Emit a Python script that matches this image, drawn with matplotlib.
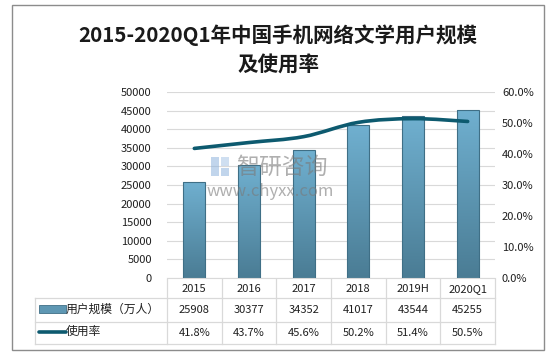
import numpy as np
import matplotlib
matplotlib.use("Agg")
import matplotlib.pyplot as plt
from matplotlib.path import Path
from matplotlib.patches import PathPatch, Rectangle
from matplotlib.lines import Line2D
from matplotlib.transforms import blended_transform_factory
from matplotlib.ticker import FuncFormatter, MultipleLocator

plt.rcParams['font.family'] = ['Noto Sans CJK SC', 'DejaVu Sans']

# ---- data ----
categories = ["2015", "2016", "2017", "2018", "2019H", "2020Q1"]
users = [25908, 30377, 34352, 41017, 43544, 45255]          # 万人
rate = [41.8, 43.7, 45.6, 50.2, 51.4, 50.5]                 # %
title = "2015-2020Q1年中国手机网络文学用户规模\n及使用率"
series_bar = "用户规模（万人）"
series_line = "使用率"

W, H = 554, 356
fig = plt.figure(figsize=(W / 100, H / 100), dpi=100)
fig.patch.set_facecolor("white")

ax = fig.add_axes([167 / W, 78 / H, 328 / W, 186 / H])
ax2 = ax.twinx()
txt = "#1f1f1f"
grid_c = "#d9d9d9"

x = np.arange(len(categories))
bw = 0.4
bars = ax.bar(x, users, width=bw, color="none", edgecolor="#3f6f86", linewidth=0.8, zorder=3)
top_c = np.array([112, 176, 208]) / 255
bot_c = np.array([74, 124, 148]) / 255
grad = np.linspace(0, 1, 256)[:, None, None]
img = top_c * (1 - grad) + bot_c * grad
for b in bars:
    x0, w, h = b.get_x(), b.get_width(), b.get_height()
    im = ax.imshow(img, extent=[x0, x0 + w, 0, h], aspect="auto", origin="upper", zorder=2)
    im.set_clip_path(b)
ax.set_xlim(-0.5, len(categories) - 0.5)
ax.set_ylim(0, 50000)
ax.yaxis.set_major_locator(MultipleLocator(5000))
ax.grid(axis="y", color=grid_c, linewidth=0.8, zorder=0)
ax.set_axisbelow(True)
ax.set_xticks([])
for s in ["top", "left", "right"]:
    ax.spines[s].set_visible(False)
ax.spines["bottom"].set_color(grid_c)
ax.tick_params(axis="y", length=0, pad=11, labelsize=8, labelcolor=txt)

# smooth line (Catmull-Rom -> cubic Bezier)
pts = np.column_stack([x, np.array(rate) / 100.0])
ext = np.vstack([pts[0], pts, pts[-1]])
verts = [pts[0]]
codes = [Path.MOVETO]
for i in range(len(pts) - 1):
    p0, p1, p2, p3 = ext[i], ext[i + 1], ext[i + 2], ext[i + 3]
    c1 = p1 + (p2 - p0) / 6
    c2 = p2 - (p3 - p1) / 6
    verts += [c1, c2, p2]
    codes += [Path.CURVE4] * 3
ax2.add_patch(PathPatch(Path(verts, codes), facecolor="none", edgecolor="#0d5a6f",
                        linewidth=2.6, capstyle="round", zorder=4))
ax2.set_ylim(0, 0.6)
ax2.yaxis.set_major_locator(MultipleLocator(0.1))
ax2.yaxis.set_major_formatter(FuncFormatter(lambda v, p: f"{v*100:.1f}%"))
ax2.tick_params(axis="y", length=0, pad=5, labelsize=8, labelcolor=txt)
for s in ["top", "left", "right", "bottom"]:
    ax2.spines[s].set_visible(False)

# ---- overlay (pixel coords) ----
ov = fig.add_axes([0, 0, 1, 1], zorder=5)
ov.set_xlim(0, W)
ov.set_ylim(H, 0)
ov.axis("off")
ov.patch.set_visible(False)

# outer frame
ov.add_patch(Rectangle((11.8, 5.3), 532.5, 345, fill=False, edgecolor="#8c8c8c", linewidth=1.0))

# title
ov.text(278, 50, title, ha="center", va="center", fontsize=14.8, fontweight="bold",
        color="#1a1a1a", linespacing=1.5)

# watermark
ov.text(236, 167, "智研咨询", ha="left", va="center", fontsize=16.5, color="#7a7a7a", alpha=0.6)
ov.text(207, 191, "www.chyxx.com", ha="left", va="center", fontsize=12, color="#7a7a7a", alpha=0.6)
ov.add_patch(Rectangle((211, 157), 8, 19, facecolor="#8fb4dd", alpha=0.55, edgecolor="none"))
ov.add_patch(Rectangle((221, 157), 8, 9, facecolor="#a9c5e6", alpha=0.55, edgecolor="none"))
ov.add_patch(Rectangle((221, 168), 8, 8, facecolor="#8fb4dd", alpha=0.55, edgecolor="none"))

# data table
bt = blended_transform_factory(ax.transData, ov.transData)
y_top, y_r1, y_r2, y_bot = 278.5, 297.8, 321.7, 343.8
x_lab = 34.6
lc = grid_c
xr_pix = ax.transData.transform((len(categories) - 0.5, 0))[0]
for yy in (y_r1, y_r2, y_bot):
    ov.add_line(Line2D([x_lab, xr_pix], [yy, yy], color=lc, linewidth=0.9))
ov.add_line(Line2D([x_lab, x_lab], [y_r1, y_bot], color=lc, linewidth=0.9))
for k in range(len(categories) + 1):
    ov.add_line(Line2D([k - 0.5, k - 0.5], [y_top, y_bot], color=lc, linewidth=0.9, transform=bt))

for i, c in enumerate(categories):
    ov.text(i, (y_top + y_r1) / 2 + 0.5, c, ha="center", va="center", fontsize=8, color=txt, transform=bt)
    ov.text(i, (y_r1 + y_r2) / 2, f"{users[i]}", ha="center", va="center", fontsize=8, color=txt, transform=bt)
    ov.text(i, (y_r2 + y_bot) / 2, f"{rate[i]:.1f}%", ha="center", va="center", fontsize=8, color=txt, transform=bt)

# legend keys
ov.add_patch(Rectangle((38.5, 304.5), 27.5, 8.5, facecolor="#5e97b3", edgecolor="#3f6f86", linewidth=0.6))
ov.add_line(Line2D([38.5, 66], [331.5, 331.5], color="#0d5a6f", linewidth=2.6, solid_capstyle="round"))
ov.text(66, (y_r1 + y_r2) / 2, series_bar, ha="left", va="center", fontsize=8.5, color=txt)
ov.text(66, (y_r2 + y_bot) / 2 - 1, series_line, ha="left", va="center", fontsize=8.5, color=txt)

fig.savefig("out.png", dpi=100)
